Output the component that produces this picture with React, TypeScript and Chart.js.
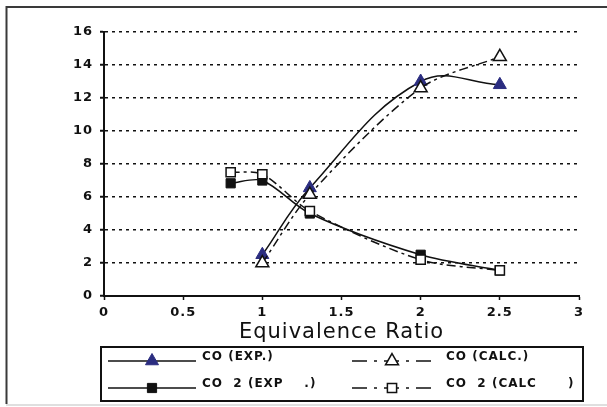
import React, { useEffect, useRef } from "react";
import { Chart, registerables } from "chart.js";
import { drawPoint } from "chart.js/helpers";

Chart.register(...registerables);

// ---- data ----
const coX = [1, 1.3, 2, 2.5];
const coExp = [2.5, 6.55, 13.0, 12.8];
const coCalc = [2.0, 6.15, 12.6, 14.5];
const co2X = [0.8, 1, 1.3, 2, 2.5];
const co2Exp = [6.83, 7.0, 5.0, 2.5, 1.55];
const co2Calc = [7.5, 7.38, 5.15, 2.2, 1.55];
const xTicks = [0, 0.5, 1, 1.5, 2, 2.5, 3];
const yTicks = [0, 2, 4, 6, 8, 10, 12, 14, 16];
const xTitle = "Equivalence Ratio";
const labelCoExp = "CO (EXP.)";
const labelCoCalc = "CO (CALC.)";
const labelCo2Exp = "CO  2 (EXP    .)";
const labelCo2Calc = "CO  2 (CALC      )";

const INK = "#111";
const NAVY = "#2b2d80";
const FONT = "'DejaVu Sans', Verdana, sans-serif";

const pts = (xs: number[], ys: number[]) => xs.map((x, i) => ({ x, y: ys[i] }));

const spacingPlugin = {
  id: "spacing",
  beforeLayout(chart: any) {
    chart.ctx.letterSpacing = "1px";
  },
  beforeDraw(chart: any) {
    const ctx = chart.ctx;
    ctx.letterSpacing = "1px";
    ctx.save();
    ctx.fillStyle = "#fff";
    ctx.fillRect(0, 0, chart.width, chart.height);
    // outer frame
    ctx.strokeStyle = "#3a3a3a";
    ctx.lineWidth = 2;
    ctx.beginPath();
    ctx.moveTo(6.5, 404);
    ctx.lineTo(6.5, 7);
    ctx.lineTo(chart.width, 7);
    ctx.stroke();
    ctx.strokeStyle = "#d4d4d4";
    ctx.lineWidth = 1.5;
    ctx.beginPath();
    ctx.moveTo(6, 405);
    ctx.lineTo(chart.width, 405);
    ctx.stroke();
    ctx.restore();
  },
};

const legendPlugin = {
  id: "boxLegend",
  afterDraw(chart: any) {
    const ctx = chart.ctx;
    const ds = chart.data.datasets;
    ctx.save();
    ctx.setLineDash([]);
    ctx.lineWidth = 2;
    ctx.strokeStyle = INK;
    ctx.strokeRect(101, 347, 482, 54);

    const entries = [
      { d: ds[2], x1: 108, x2: 196, mx: 152, y: 361, tx: 202, ty: 357, dash: [] as number[] },
      { d: ds[0], x1: 352, x2: 433, mx: 392, y: 361, tx: 446, ty: 357, dash: [15, 7, 3, 7] },
      { d: ds[3], x1: 108, x2: 196, mx: 152, y: 388, tx: 202, ty: 384, dash: [] as number[] },
      { d: ds[1], x1: 352, x2: 433, mx: 392, y: 388, tx: 446, ty: 384, dash: [15, 7, 3, 7] },
    ];
    for (const e of entries) {
      ctx.setLineDash(e.dash);
      ctx.lineWidth = 1.5;
      ctx.strokeStyle = e.d.borderColor;
      ctx.beginPath();
      ctx.moveTo(e.x1, e.y);
      ctx.lineTo(e.x2, e.y);
      ctx.stroke();
      ctx.setLineDash([]);
      ctx.fillStyle = e.d.pointBackgroundColor;
      ctx.strokeStyle = e.d.pointBorderColor;
      ctx.lineWidth = e.d.pointBorderWidth;
      drawPoint(
        ctx,
        { pointStyle: e.d.pointStyle, radius: e.d.pointRadius, borderWidth: e.d.pointBorderWidth, rotation: 0 },
        e.mx,
        e.y
      );
      ctx.fillStyle = INK;
      ctx.font = `bold 12px ${FONT}`;
      ctx.letterSpacing = "1px";
      ctx.textAlign = "left";
      ctx.textBaseline = "middle";
      ctx.fillText(e.d.label, e.tx, e.ty);
    }
    ctx.restore();
  },
};

export default function App() {
  const ref = useRef<HTMLCanvasElement>(null);

  useEffect(() => {
    if (!ref.current) return;
    const chart = new Chart(ref.current, {
      type: "line",
      data: {
        datasets: [
          {
            label: labelCoCalc,
            data: pts(coX, coCalc),
            borderColor: INK,
            borderWidth: 1.5,
            borderDash: [9, 4, 3, 4],
            pointStyle: "triangle",
            pointRadius: 7.5,
            pointBackgroundColor: "#fff",
            pointBorderColor: INK,
            pointBorderWidth: 1.5,
            tension: 0.3,
            fill: false,
            order: 0,
          },
          {
            label: labelCo2Calc,
            data: pts(co2X, co2Calc),
            borderColor: INK,
            borderWidth: 1.5,
            borderDash: [9, 4, 3, 4],
            pointStyle: "rect",
            pointRadius: 6.5,
            pointBackgroundColor: "#fff",
            pointBorderColor: INK,
            pointBorderWidth: 1.5,
            tension: 0.3,
            fill: false,
            order: 0,
          },
          {
            label: labelCoExp,
            data: pts(coX, coExp),
            borderColor: INK,
            borderWidth: 1.5,
            pointStyle: "triangle",
            pointRadius: 7.5,
            pointBackgroundColor: NAVY,
            pointBorderColor: NAVY,
            pointBorderWidth: 1,
            tension: 0.4,
            fill: false,
            order: 1,
          },
          {
            label: labelCo2Exp,
            data: pts(co2X, co2Exp),
            borderColor: INK,
            borderWidth: 1.5,
            pointStyle: "rect",
            pointRadius: 6.5,
            pointBackgroundColor: INK,
            pointBorderColor: INK,
            pointBorderWidth: 1,
            tension: 0.3,
            fill: false,
            order: 1,
          },
        ],
      },
      options: {
        responsive: false,
        animation: false,
        devicePixelRatio: 1,
        layout: { padding: { top: 32, right: 28, bottom: 62, left: 0 } },
        plugins: {
          legend: { display: false },
          tooltip: { enabled: false },
          title: { display: false },
        },
        scales: {
          x: {
            type: "linear",
            min: 0,
            max: 3,
            afterBuildTicks: (s: any) => {
              s.ticks = xTicks.map((v) => ({ value: v }));
            },
            afterFit: (s: any) => {
              s.height = 49;
            },
            grid: {
              drawOnChartArea: false,
              drawTicks: true,
              tickLength: 4,
              tickColor: INK,
              tickWidth: 1.5,
              tickBorderDash: [],
            },
            border: { display: true, color: INK, width: 2 },
            ticks: {
              color: INK,
              padding: 5,
              maxRotation: 0,
              autoSkip: false,
              callback: (v: any) => String(v),
              font: { family: FONT, size: 13, weight: "bold" },
            },
            title: {
              display: true,
              text: xTitle,
              color: INK,
              padding: { top: 0, bottom: 0 },
              font: { family: FONT, size: 21, weight: "normal" },
            },
          },
          y: {
            type: "linear",
            min: 0,
            max: 16,
            afterBuildTicks: (s: any) => {
              s.ticks = yTicks.map((v) => ({ value: v }));
            },
            afterFit: (s: any) => {
              s.width = 104;
            },
            grid: {
              color: INK,
              lineWidth: 1.5,
              drawTicks: true,
              tickLength: 4,
              tickColor: INK,
              tickWidth: 2,
              tickBorderDash: [],
            },
            border: { display: true, color: INK, width: 2, dash: [3, 4] },
            ticks: {
              color: INK,
              padding: 7,
              autoSkip: false,
              callback: (v: any) => String(v),
              font: { family: FONT, size: 13, weight: "bold" },
            },
          },
        },
      },
      plugins: [spacingPlugin, legendPlugin],
    } as any);
    return () => chart.destroy();
  }, []);

  return (
    <div style={{ position: "fixed", left: 0, top: 0, width: 607, height: 407, background: "#fff" }}>
      <canvas ref={ref} width={607} height={407} style={{ display: "block" }} />
    </div>
  );
}
